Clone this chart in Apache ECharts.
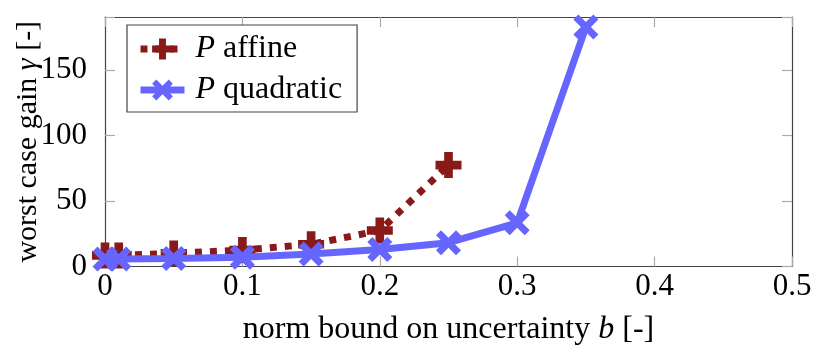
<!DOCTYPE html>
<html><head><meta charset="utf-8">
<script src="https://cdn.jsdelivr.net/npm/echarts@6/dist/echarts.min.js"></script>
<style>html,body{margin:0;padding:0;background:#fff}#c{width:816px;height:351px}</style>
</head><body><div id="c"></div>
<script>
var affineX = [0, 0.01, 0.05, 0.1, 0.15, 0.2, 0.25];
var affineY = [8.5, 8.5, 10, 12.6, 17, 27.5, 77.5];
var quadX = [0, 0.01, 0.05, 0.1, 0.15, 0.2, 0.25, 0.3, 0.35];
var quadY = [5.8, 5.8, 6.2, 7, 9.5, 13, 18.2, 33.4, 183];
var xTicks = [0, 0.1, 0.2, 0.3, 0.4, 0.5];
var yTicks = [0, 50, 100, 150];

var FONT = 'Liberation Serif';
var FS = 31;
var FN = 32;
var FY = 30;
var PLUS = 'path://M-1,-3H1V-1H3V1H1V3H-1V1H-3V-1H-1Z';
var CROSS = 'path://M-3,-1.8L-1.8,-3L0,-1.2L1.8,-3L3,-1.8L1.2,0L3,1.8L1.8,3L0,1.2L-1.8,3L-3,1.8L-1.2,0Z';
function zip(a, b) { return a.map(function (v, i) { return [v, b[i]]; }); }

var chart = echarts.init(document.getElementById('c'), null, {renderer: 'canvas'});
var frame = {show: true, onZero: false, lineStyle: {color: '#444', width: 1.2}};
var tick = {show: true, inside: true, length: 10, lineStyle: {color: '#aaa', width: 1.2}};
var rich = {i: {fontFamily: FONT, fontStyle: 'italic', fontSize: FN, color: '#000'}, s: {width: 6}};
var richY = {i: {fontFamily: FONT, fontStyle: 'italic', fontSize: FY, color: '#000'}};
chart.setOption({
  animation: false,
  grid: {left: 105, right: 24, top: 17, bottom: 84.5, containLabel: false, outerBoundsMode: 'none'},
  legend: {
    left: 127, top: 25, orient: 'vertical',
    data: ['affine', 'quadratic'],
    itemWidth: 44, itemHeight: 26, itemGap: 9,
    padding: [8, 15, 6, 10],
    borderColor: '#444', borderWidth: 1.2, borderRadius: 0,
    backgroundColor: '#fff',
    lineStyle: {width: 7},
    formatter: function (n) { return '{s|}{i|P} ' + n; },
    textStyle: {fontFamily: FONT, fontSize: FN, color: '#000', rich: rich}
  },
  xAxis: [{
    type: 'value', min: 0, max: 0.5, interval: 0.1,
    axisLine: frame, axisTick: tick, splitLine: {show: false},
    axisLabel: {fontFamily: FONT, fontSize: FS, color: '#000', margin: 5,
      formatter: function (v) { var s = xTicks.filter(function (t) { return Math.abs(t - v) < 1e-9; }); return s.length ? String(s[0]) : ''; }},
    name: 'norm bound on uncertainty {i|b} [-]', nameLocation: 'middle', nameGap: 47, nameMoveOverlap: false,
    nameTextStyle: {fontFamily: FONT, fontSize: FN, color: '#000', rich: rich}
  }, {
    type: 'value', position: 'top', min: 0, max: 0.5, interval: 0.1,
    axisLine: frame, axisTick: tick, axisLabel: {show: false}, splitLine: {show: false}
  }],
  yAxis: [{
    type: 'value', min: 0, max: 190.7, interval: 50,
    axisLine: frame, axisTick: tick, splitLine: {show: false},
    axisLabel: {fontFamily: FONT, fontSize: FS, color: '#000', margin: 18,
      formatter: function (v) { return yTicks.indexOf(v) >= 0 ? String(v) : ''; }},
    name: 'worst case gain {i|γ} [-]', nameLocation: 'middle', nameGap: 62, nameRotate: 90, nameMoveOverlap: false,
    nameTextStyle: {fontFamily: FONT, fontSize: FY, color: '#000', rich: richY}
  }, {
    type: 'value', position: 'right', min: 0, max: 190.7, interval: 50,
    axisLine: frame, axisTick: tick, axisLabel: {show: false}, splitLine: {show: false}
  }],
  series: [{
    name: 'affine', type: 'line', data: zip(affineX, affineY),
    symbol: PLUS, symbolSize: 26, showAllSymbol: true,
    lineStyle: {color: '#8a1a1a', width: 7, type: [7, 8], cap: 'butt'},
    itemStyle: {color: '#8a1a1a', borderWidth: 0},
    z: 2
  }, {
    name: 'quadratic', type: 'line', data: zip(quadX, quadY),
    symbol: CROSS, symbolSize: 25, showAllSymbol: true,
    lineStyle: {color: '#6666ff', width: 7},
    itemStyle: {color: '#6666ff', borderWidth: 0},
    z: 3
  }]
});
</script></body></html>
